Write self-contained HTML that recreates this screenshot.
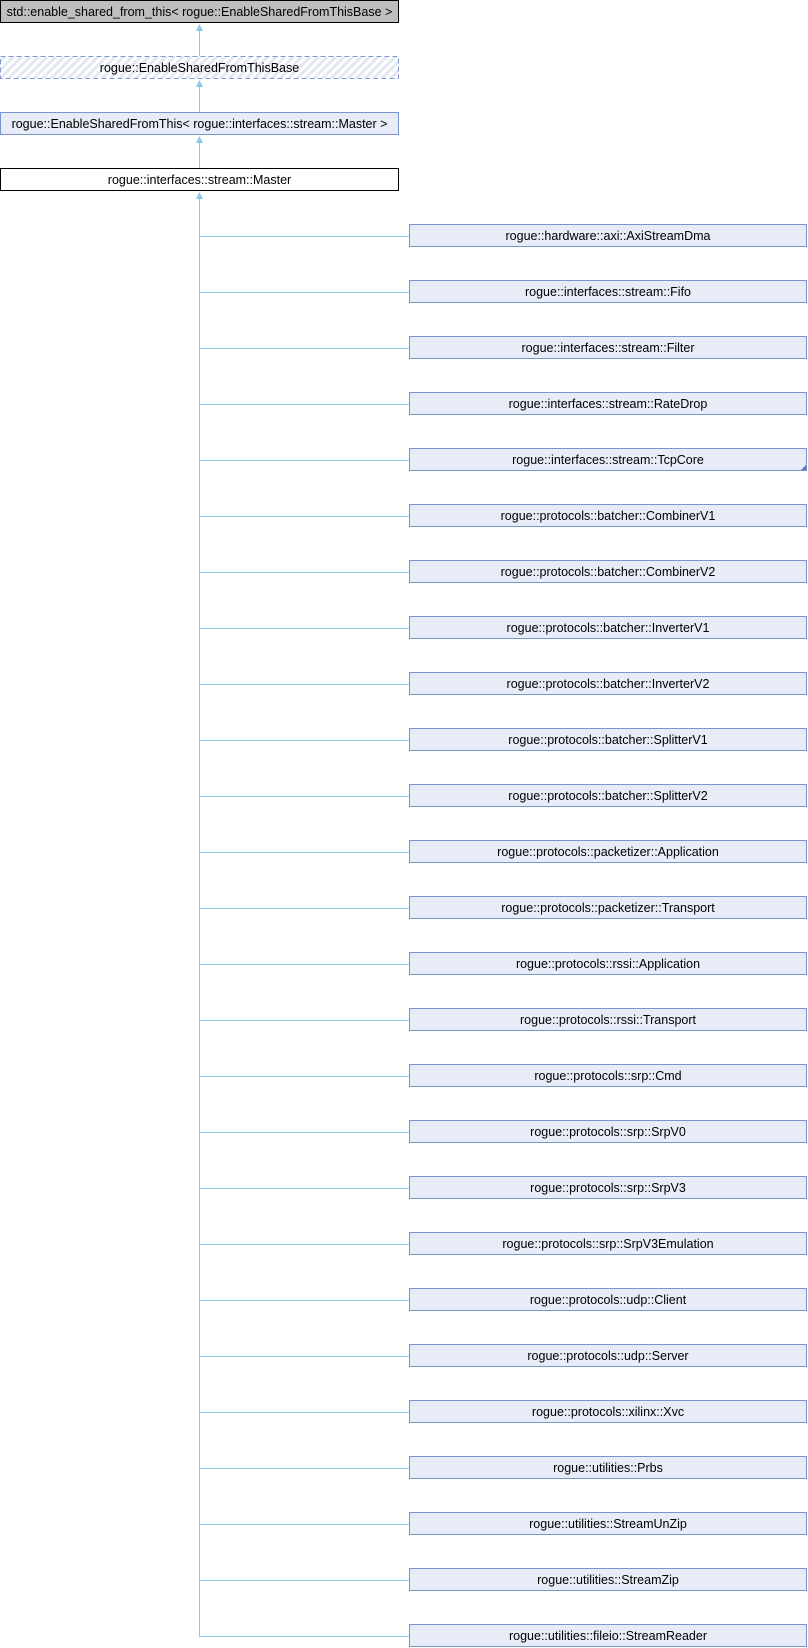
<!DOCTYPE html>
<html><head><meta charset="utf-8"><style>
html,body{margin:0;padding:0;background:#fff;}
svg{display:block;}
text{font-family:"Liberation Sans",sans-serif;font-size:12.5px;fill:#000;}
</style></head><body>
<svg width="808" height="1648" viewBox="0 0 808 1648" xmlns="http://www.w3.org/2000/svg">
<defs>
<pattern id="h" width="6" height="6" patternUnits="userSpaceOnUse" patternTransform="rotate(45)">
<rect width="6" height="6" fill="#fff"/><rect width="3" height="6" fill="#e4e8f3"/>
</pattern>
</defs>
<g stroke="#8ec8e8" stroke-width="1" fill="none">
<line x1="199.5" y1="30" x2="199.5" y2="56"/>
<line x1="199.5" y1="86" x2="199.5" y2="112"/>
<line x1="199.5" y1="142" x2="199.5" y2="168"/>
<line x1="199.5" y1="198" x2="199.5" y2="1636.5"/>
</g>
<g fill="#8ec8e8">
<polygon points="199.5,24 196,31 203,31"/>
<polygon points="199.5,80 196,87 203,87"/>
<polygon points="199.5,136 196,143 203,143"/>
<polygon points="199.5,192 196,199 203,199"/>
</g>
<rect x="0.5" y="0.5" width="398" height="22" fill="#bfbfbf" stroke="#000"/>
<text x="199.5" y="16" text-anchor="middle">std::enable_shared_from_this&lt; rogue::EnableSharedFromThisBase &gt;</text>
<rect x="0.5" y="56.5" width="398" height="22" fill="url(#h)" stroke="#7f9bd0" stroke-dasharray="5,3"/>
<text x="199.5" y="72" text-anchor="middle">rogue::EnableSharedFromThisBase</text>
<rect x="0.5" y="112.5" width="398" height="22" fill="#e8ecf6" stroke="#7a95cc"/>
<text x="199.5" y="128" text-anchor="middle">rogue::EnableSharedFromThis&lt; rogue::interfaces::stream::Master &gt;</text>
<rect x="0.5" y="168.5" width="398" height="22" fill="#fff" stroke="#000"/>
<text x="199.5" y="184" text-anchor="middle">rogue::interfaces::stream::Master</text>
<g id="kids"></g>
</svg>
<script>
var names=["rogue::hardware::axi::AxiStreamDma","rogue::interfaces::stream::Fifo","rogue::interfaces::stream::Filter","rogue::interfaces::stream::RateDrop","rogue::interfaces::stream::TcpCore","rogue::protocols::batcher::CombinerV1","rogue::protocols::batcher::CombinerV2","rogue::protocols::batcher::InverterV1","rogue::protocols::batcher::InverterV2","rogue::protocols::batcher::SplitterV1","rogue::protocols::batcher::SplitterV2","rogue::protocols::packetizer::Application","rogue::protocols::packetizer::Transport","rogue::protocols::rssi::Application","rogue::protocols::rssi::Transport","rogue::protocols::srp::Cmd","rogue::protocols::srp::SrpV0","rogue::protocols::srp::SrpV3","rogue::protocols::srp::SrpV3Emulation","rogue::protocols::udp::Client","rogue::protocols::udp::Server","rogue::protocols::xilinx::Xvc","rogue::utilities::Prbs","rogue::utilities::StreamUnZip","rogue::utilities::StreamZip","rogue::utilities::fileio::StreamReader"];
var g=document.getElementById('kids'),s='';
names.forEach(function(n,i){var y=224+56*i;
s+='<line x1="199.5" y1="'+(y+12.5)+'" x2="409" y2="'+(y+12.5)+'" stroke="#8ec8e8"/>';
s+='<rect x="409.5" y="'+(y+0.5)+'" width="397" height="22" fill="#e8ecf6" stroke="#7a95cc"/>';
if(i==4)s+='<polygon points="806,'+(y+17)+' 806,'+(y+22)+' 801,'+(y+22)+'" fill="#5a78b8"/>';
s+='<text x="608" y="'+(y+16)+'" text-anchor="middle">'+n+'</text>';});
g.innerHTML=s;
</script>
</body></html>
